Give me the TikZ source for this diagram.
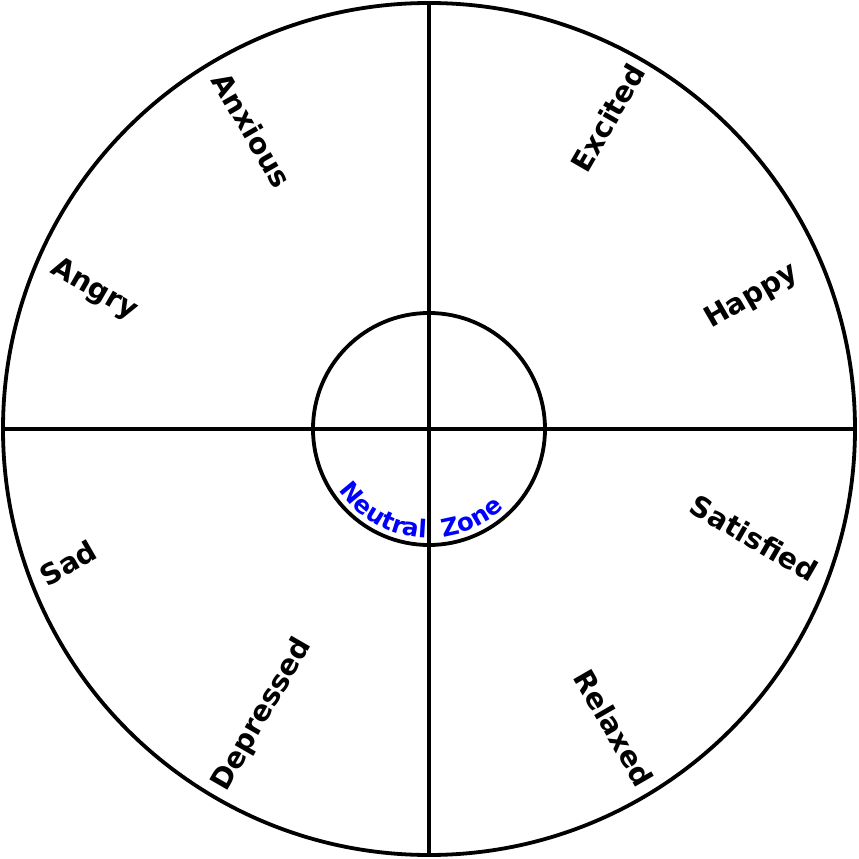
\documentclass[tikz,border=0pt]{standalone}
\usepackage{fontspec}
\newfontfamily\dejavu{DejaVu Sans}
\usetikzlibrary{decorations.text}
\definecolor{zoneblue}{RGB}{0,0,255}
\newcommand{\moodfont}{\dejavu\bfseries\fontsize{28.5}{34}\selectfont}
\newcommand{\zonefont}{\dejavu\bfseries\fontsize{24.5}{29}\selectfont}

\begin{document}
\begin{tikzpicture}[x=1pt, y=1pt, line width=3.8pt,
    wheel/.style={draw, circle, inner sep=0pt, outer sep=0pt},
    mood/.style={font=\moodfont, inner sep=0pt}]
    \useasboundingbox (-429,-430) rectangle (430,429);

    % outer wheel and neutral zone
    \node[wheel, minimum size=852] (outer) at (0,0) {};
    \node[wheel, minimum size=232] (neutral) at (0,0) {};
    \draw (outer.north) -- (outer.south);
    \draw (outer.west) -- (outer.east);

    % emotion labels
    \foreach \px/\py/\rot/\word in {179/311/60/Excited, 323/132/30/Happy,
        325/-109/-30/Satisfied, 185/-299/-60/Relaxed,
        -167/-286/60/Depressed, -361/-134/30/Sad,
        -335/139/-30/Angry, -177/299/-60/Anxious} {
        \node[mood, rotate=\rot] (\word) at (\px,\py) {\word};
    }

    \path[decorate, decoration={text along path, text align=center,
        text color=zoneblue, text={|\zonefont|Neutral{ }{ }Zone}}]
        (-171:109) arc[start angle=-171, end angle=-21, radius=109];
\end{tikzpicture}
\end{document}
